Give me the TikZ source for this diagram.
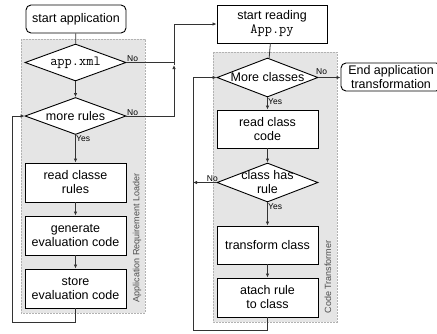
\documentclass[tikz,border=0pt]{standalone}
\usepackage{fontspec}
\setmainfont{Liberation Sans}
\usetikzlibrary{shapes.geometric}
\usetikzlibrary{arrows.meta}

\begin{document}
\begin{tikzpicture}[x=1pt,y=-1pt,
                    box/.style={draw,line width=0.9pt,fill=white,minimum width=101pt,minimum height=39pt,inner sep=1pt,align=center,font=\fontsize{12.5}{14}\selectfont},
                    term/.style={box,rounded corners=5pt,minimum height=28pt},
                    dia/.style={draw,diamond,line width=0.9pt,fill=white,minimum width=101pt,minimum height=38pt,inner sep=0pt},
                    txt/.style={align=center,font=\fontsize{12.5}{14}\selectfont,inner sep=0pt},
                    code/.style={font=\fontsize{14}{14}\ttfamily},
                    yn/.style={font=\fontsize{8.5}{9}\selectfont,inner sep=0.5pt},
                    panel/.style={draw=black!30,dash pattern=on 2pt off 1pt,fill=black!10,line width=0.6pt},
                    panellbl/.style={rotate=90,font=\fontsize{9}{10}\selectfont,text=black!70},
                    arr/.style={-{Latex[length=4pt,width=3.5pt]},line width=0.8pt,draw=black!80},
                    ln/.style={line width=0.8pt,draw=black!80}]
                    \useasboundingbox (0,0) rectangle (437,333);

                    \draw[panel] (21,39) rectangle (145,313);
                    \draw[panel] (213,52) rectangle (337,322);
                    \node[panellbl] (loaderlbl) at(137,238) {Application Requirement Loader};
                    \node[panellbl] (transflbl) at(328,277) {Code Transformer};

                    \node[term,minimum width=100pt] (start) at(76,19) {start application};
                    \node[dia,minimum height=37pt] (xml) at(75.5,62.5) {};
                    \node[txt,code] (xmltxt) at(xml) {app.xml};
                    \node[dia,minimum height=37pt] (rules) at(75.5,116) {};
                    \node[txt] (rulestxt) at(rules) {more rules};
                    \node[box] (readrules) at(75.5,182.5) {read classe\\rules};
                    \node[box] (gencode) at(75.5,235.5) {generate\\evaluation code};
                    \node[box] (store) at(75.5,288.5) {store\\evaluation code};

                    \node[box,minimum width=110pt,minimum height=38pt] (reading) at(272,24) {start reading\\{\fontsize{14}{14}\ttfamily App.py}};
                    \node[dia,minimum height=39pt] (classes) at(267.5,77.5) {};
                    \node[txt] (classestxt) at(classes) {More classes};
                    \node[term,minimum width=100pt] (finish) at(391,77) {End application\\transformation};
                    \node[box,minimum height=38pt] (readcode) at(267.5,129) {read class\\code};
                    \node[dia,minimum height=39pt] (hasrule) at(267.5,182.5) {};
                    \node[txt] (hasruletxt) at(hasrule) {class has\\rule};
                    \node[box,minimum height=38pt] (transform) at(267.5,245) {transform class};
                    \node[box] (attach) at(267.5,297.5) {atach rule\\to class};

                    \draw[ln] (start) -- (xml);
                    \draw[arr] (xml) -- (rules);
                    \draw[arr] (rules) -- (readrules);
                    \draw[arr] (readrules) -- (gencode);
                    \draw[arr] (gencode) -- (store);
                    \coordinate (backl) at(12,322);
                    \draw[arr] (store.south) |- (backl) |- (rules.west);

                    \coordinate (jn) at(174,65);
                    \draw[ln] (xml.east) -- (xml.east -| jn);
                    \draw[arr] (rules.east) -| (jn);
                    \draw[arr] (jn) |- (reading.west);

                    \draw[ln] (reading) -- (classes);
                    \draw[arr] (classes.east) -- (classes.east -| finish.west);
                    \draw[arr] (classes) -- (readcode);
                    \draw[arr] (readcode) -- (hasrule);
                    \draw[arr] (hasrule) -- (transform);
                    \draw[arr] (transform) -- (attach);
                    \coordinate (backr) at(193,330);
                    \draw[arr] (attach.south) |- (backr) |- (classes.west);
                    \draw[arr] (hasrule.west) -- (hasrule.west -| backr);

                    \node[yn,anchor=south west] (xmlno) at(xml.east) {No};
                    \node[yn,anchor=south west] (rulesno) at(rules.east) {No};
                    \node[yn,anchor=north west] (rulesyes) at(rules.south) {Yes};
                    \node[yn,anchor=south west] (classesno) at([xshift=-3pt,yshift=2pt]classes.east) {No};
                    \node[yn,anchor=north west] (classesyes) at(classes.south) {Yes};
                    \node[yn,anchor=south east] (hasruleno) at([xshift=2pt]hasrule.west) {No};
                    \node[yn,anchor=north west] (hasruleyes) at(hasrule.south) {Yes};
                \end{tikzpicture}
\end{document}
